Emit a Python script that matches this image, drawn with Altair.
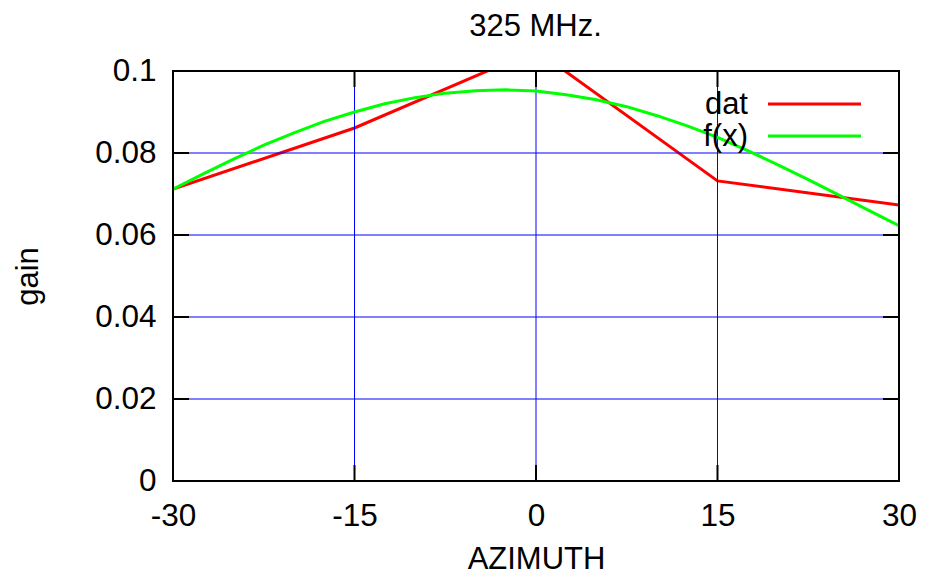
import altair as alt
import pandas as pd

# ---- data ----
az = [-30, -15, 0, 15, 30]
dat = [0.0712, 0.0861, 0.1051, 0.0732, 0.0673]

fit_az = [-30, -27.5, -25, -22.5, -20, -17.5, -15, -12.5, -10, -7.5, -5, -2.5,
          0, 2.5, 5, 7.5, 10, 12.5, 15, 17.5, 20, 22.5, 25, 27.5, 30]
fit_gain = [0.0712, 0.0749, 0.0785, 0.0819, 0.0849, 0.0877, 0.0900, 0.0920,
            0.0935, 0.0946, 0.0952, 0.0954, 0.0951, 0.0942, 0.0930, 0.0913,
            0.0891, 0.0866, 0.0838, 0.0806, 0.0771, 0.0735, 0.0698, 0.0660, 0.0623]

x_ticks = [-30, -15, 0, 15, 30]
y_ticks = [0, 0.02, 0.04, 0.06, 0.08, 0.1]
grid_x = [-15, 0, 15]
grid_y = [0.02, 0.04, 0.06, 0.08]
chart_title = "325 MHz."
legend_labels = ["dat", "f(x)"]
x_title = "AZIMUTH"
y_title = "gain"

# ---- styles ----
W, H = 726, 410
FONT = "Liberation Sans"
FS = 31
LFS = 31.5
RED = "#ff0000"
GREEN = "#00ff00"
BLUE = "#0000ff"
TICK = 16

xs = alt.Scale(domain=[-30, 30], nice=False, zero=False)
ys = alt.Scale(domain=[0, 0.1], nice=False, zero=False)

df_dat = pd.DataFrame({"az": az, "gain": dat})
df_fit = pd.DataFrame({"az": fit_az, "gain": fit_gain})
one = pd.DataFrame({"k": [0]})

xaxis = alt.Axis(values=x_ticks, labelExpr="'' + datum.value", grid=False,
                 ticks=False, tickSize=0, domain=False, labelFont=FONT,
                 labelFontSize=LFS, labelColor="black", labelPadding=44,
                 labelBaseline="alphabetic", labelFlush=False, labelOverlap=False,
                 title=x_title, titleFont=FONT, titleFontSize=FS,
                 titleFontWeight="normal", titleColor="black", titleX=W / 2,
                 titleY=87.5, titleBaseline="alphabetic", titleAlign="center")
yaxis = alt.Axis(values=y_ticks, labelExpr="'' + datum.value", grid=False,
                 ticks=False, tickSize=0, domain=False, labelFont=FONT,
                 labelFontSize=LFS, labelColor="black", labelPadding=17,
                 labelBaseline="middle", labelFlush=False, labelOverlap=False,
                 title=y_title, titleFont=FONT, titleFontSize=FS,
                 titleFontWeight="normal", titleColor="black", titleAngle=270,
                 titleX=-136, titleY=H / 2, titleBaseline="alphabetic",
                 titleAlign="center")


def X(field):
    return alt.X(field, scale=xs, axis=xaxis)


def Y(field):
    return alt.Y(field, scale=ys, axis=yaxis)


gx = alt.Chart(pd.DataFrame({"v": grid_x})).mark_rule(color=BLUE, strokeWidth=1).encode(
    x=X("v:Q"))
gy = alt.Chart(pd.DataFrame({"v": grid_y})).mark_rule(color=BLUE, strokeWidth=1).encode(
    y=Y("v:Q"))

dxt = pd.DataFrame({"v": x_ticks})
dyt = pd.DataFrame({"v": y_ticks})
tick_b = alt.Chart(dxt).mark_rule(color="black", strokeWidth=2).encode(
    x=X("v:Q"), y=alt.value(H), y2=alt.value(H - TICK))
tick_t = alt.Chart(dxt).mark_rule(color="black", strokeWidth=2).encode(
    x=X("v:Q"), y=alt.value(0), y2=alt.value(TICK))
tick_l = alt.Chart(dyt).mark_rule(color="black", strokeWidth=2).encode(
    y=Y("v:Q"), x=alt.value(0), x2=alt.value(TICK))
tick_r = alt.Chart(dyt).mark_rule(color="black", strokeWidth=2).encode(
    y=Y("v:Q"), x=alt.value(W), x2=alt.value(W - TICK))

line_dat = alt.Chart(df_dat).mark_line(color=RED, strokeWidth=3, clip=True).encode(
    x=X("az:Q"), y=Y("gain:Q"))
line_fit = alt.Chart(df_fit).mark_line(color=GREEN, strokeWidth=3, clip=True).encode(
    x=X("az:Q"), y=Y("gain:Q"))

border = alt.Chart(one).mark_rect(fill="transparent", stroke="black", strokeWidth=2).encode(
    x=alt.value(0), x2=alt.value(W), y=alt.value(0), y2=alt.value(H))

leg_t1 = alt.Chart(one).mark_text(align="right", baseline="alphabetic", font=FONT,
                                  fontSize=FS, color="black").encode(
    x=alt.value(575), y=alt.value(43), text=alt.value(legend_labels[0]))
leg_t2 = alt.Chart(one).mark_text(align="right", baseline="alphabetic", font=FONT,
                                  fontSize=FS, color="black").encode(
    x=alt.value(575), y=alt.value(75), text=alt.value(legend_labels[1]))
leg_l1 = alt.Chart(one).mark_rule(color=RED, strokeWidth=3).encode(
    x=alt.value(595), x2=alt.value(688), y=alt.value(33))
leg_l2 = alt.Chart(one).mark_rule(color=GREEN, strokeWidth=3).encode(
    x=alt.value(595), x2=alt.value(688), y=alt.value(65))

title = alt.Chart(one).mark_text(align="center", baseline="alphabetic", font=FONT,
                                 fontSize=FS, color="black").encode(
    x=alt.value(W / 2 - 0.5), y=alt.value(-35), text=alt.value(chart_title))

chart = alt.layer(
    line_dat, gx, gy, line_fit, tick_b, tick_t, tick_l, tick_r, border,
    leg_t1, leg_t2, leg_l1, leg_l2, title
).properties(
    width=W, height=H,
    autosize=alt.AutoSizeParams(type="none"),
    padding={"left": 165, "top": 63, "right": 21, "bottom": 97},
).configure_view(stroke=None).configure(background="white")

chart.save("out.html", embed_options={"renderer": "svg", "actions": False})
